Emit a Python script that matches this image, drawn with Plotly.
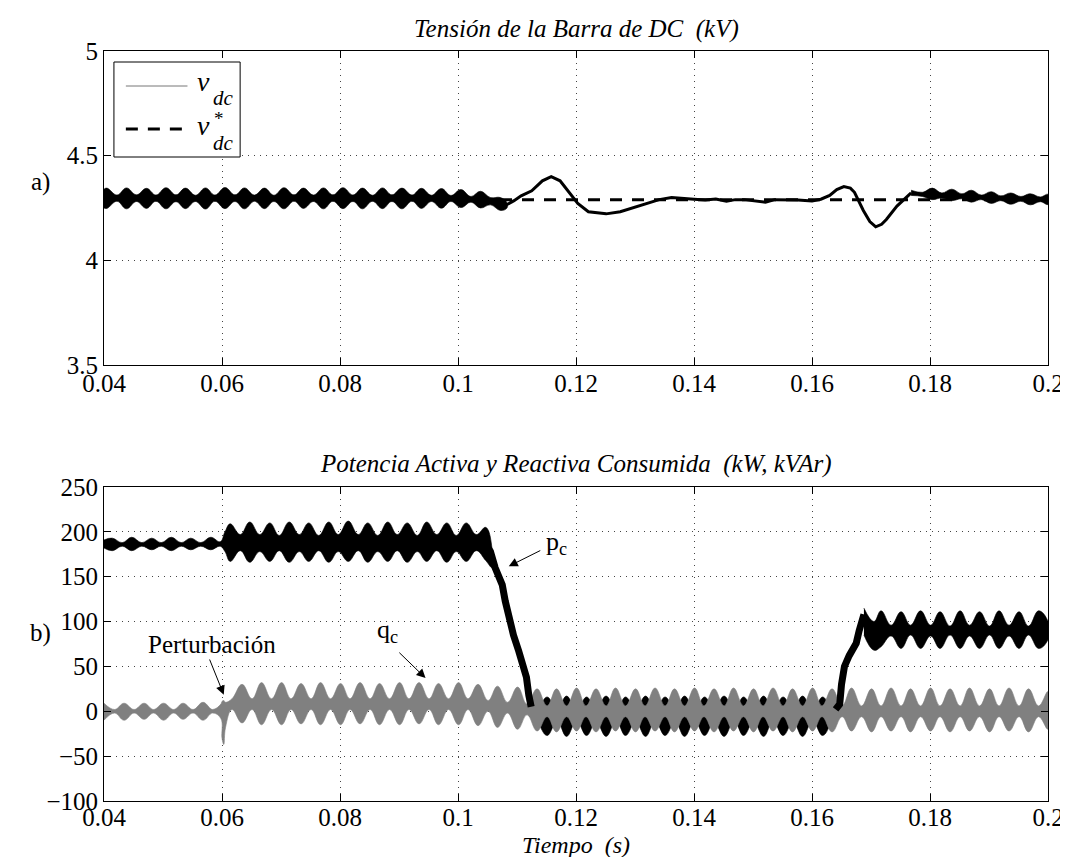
import plotly.graph_objects as go

FONT = "Liberation Serif"
BLACK = "#000000"
GRAY = "#808080"

# ---------------- data ----------------
x_ticks = [0.04, 0.06, 0.08, 0.10, 0.12, 0.14, 0.16, 0.18, 0.20]
x_tick_labels = ["0.04", "0.06", "0.08", "0.1", "0.12", "0.14", "0.16", "0.18", "0.2"]
y1_ticks = [3.5, 4.0, 4.5, 5.0]
y1_tick_labels = ["3.5", "4", "4.5", "5"]
y2_ticks = [-100, -50, 0, 50, 100, 150, 200, 250]
y2_tick_labels = ["\u2212100", "\u221250", "0", "50", "100", "150", "200", "250"]

# v_dc envelope, steady oscillation before the transient (kV)
vdc_a_t = [0.0400, 0.0405, 0.0422, 0.0438, 0.0455, 0.0472, 0.0488, 0.0505, 0.0522, 0.0538,
           0.0555, 0.0572, 0.0588, 0.0605, 0.0622, 0.0638, 0.0655, 0.0672, 0.0688, 0.0705,
           0.0722, 0.0738, 0.0755, 0.0772, 0.0788, 0.0805, 0.0822, 0.0838, 0.0855, 0.0872,
           0.0888, 0.0905, 0.0922, 0.0938, 0.0955, 0.0972, 0.0988, 0.1005, 0.1022, 0.1038,
           0.1055, 0.1072, 0.1083]
vdc_a_hi = [4.340, 4.345, 4.312, 4.346, 4.313, 4.344, 4.312, 4.347, 4.313, 4.345,
            4.311, 4.346, 4.312, 4.348, 4.313, 4.346, 4.312, 4.345, 4.311, 4.347,
            4.313, 4.345, 4.312, 4.346, 4.313, 4.347, 4.312, 4.345, 4.311, 4.346,
            4.313, 4.345, 4.312, 4.344, 4.311, 4.343, 4.310, 4.338, 4.305, 4.330,
            4.300, 4.300, 4.275]
vdc_a_lo = [4.250, 4.248, 4.282, 4.246, 4.281, 4.248, 4.282, 4.246, 4.280, 4.247,
            4.281, 4.245, 4.282, 4.247, 4.281, 4.246, 4.282, 4.247, 4.281, 4.246,
            4.282, 4.248, 4.281, 4.246, 4.282, 4.247, 4.281, 4.246, 4.282, 4.247,
            4.281, 4.246, 4.282, 4.248, 4.281, 4.249, 4.281, 4.252, 4.278, 4.250,
            4.265, 4.238, 4.250]
# v_dc during the transients (kV)
vdc_b_t = [0.1080, 0.1095, 0.1107, 0.1125, 0.1143, 0.1158, 0.1173, 0.1188, 0.1203, 0.1221,
           0.1251, 0.1275, 0.1305, 0.1341, 0.1362, 0.1383, 0.1400, 0.1419, 0.1437, 0.1455,
           0.1470, 0.1485, 0.1503, 0.1521, 0.1537, 0.1552, 0.1576, 0.1600, 0.1615, 0.1630,
           0.1642, 0.1654, 0.1665, 0.1672, 0.1687, 0.1698, 0.1708, 0.1718, 0.1726, 0.1744,
           0.1768]
vdc_b = [4.262, 4.285, 4.308, 4.332, 4.380, 4.400, 4.380, 4.325, 4.272, 4.232,
         4.222, 4.232, 4.259, 4.290, 4.300, 4.297, 4.292, 4.288, 4.293, 4.282,
         4.290, 4.290, 4.284, 4.278, 4.290, 4.290, 4.288, 4.283, 4.292, 4.310,
         4.338, 4.352, 4.345, 4.325, 4.238, 4.185, 4.160, 4.172, 4.195, 4.259,
         4.322]
# v_dc envelope after the second transient (kV)
vdc_c_t = [0.1768, 0.1787, 0.1804, 0.1820, 0.1837, 0.1854, 0.1870, 0.1887, 0.1904, 0.1920,
           0.1937, 0.1954, 0.1970, 0.1987, 0.2000]
vdc_c_hi = [4.335, 4.325, 4.345, 4.322, 4.340, 4.318, 4.335, 4.312, 4.328, 4.308,
            4.322, 4.305, 4.318, 4.303, 4.315]
vdc_c_lo = [4.310, 4.305, 4.290, 4.298, 4.285, 4.294, 4.278, 4.290, 4.272, 4.285,
            4.268, 4.282, 4.265, 4.280, 4.267]
# reference v*_dc (kV)
vref_t = [0.04, 0.20]
vref = [4.29, 4.29]

# p_c envelope before the load drop (kW)
pc_a_t = [0.0400, 0.0414, 0.0431, 0.0447, 0.0464, 0.0481, 0.0497, 0.0514, 0.0531, 0.0547,
          0.0564, 0.0581, 0.0597, 0.0605, 0.0614, 0.0631, 0.0647, 0.0664, 0.0681, 0.0697,
          0.0714, 0.0731, 0.0747, 0.0764, 0.0781, 0.0797, 0.0814, 0.0831, 0.0847, 0.0864,
          0.0881, 0.0897, 0.0914, 0.0931, 0.0947, 0.0964, 0.0981, 0.0997, 0.1014, 0.1031,
          0.1047, 0.1058]
pc_a_hi = [191, 193, 188, 194, 188, 193, 188, 194, 188, 193,
           188, 194, 189, 200, 209, 197, 211, 197, 210, 196,
           211, 197, 210, 196, 211, 197, 212, 197, 210, 196,
           211, 197, 210, 196, 211, 197, 210, 196, 210, 197,
           205, 180]
pc_a_lo = [182, 179, 184, 179, 184, 180, 184, 179, 184, 180,
           184, 180, 184, 178, 167, 179, 166, 178, 167, 179,
           166, 178, 167, 179, 166, 178, 167, 179, 166, 178,
           167, 179, 166, 178, 167, 179, 166, 178, 167, 179,
           168, 160]
# p_c fall (kW)
pc_fall_t = [0.1045, 0.1055, 0.1063, 0.1069, 0.1075, 0.1080, 0.1086, 0.1094, 0.1103, 0.1111,
             0.1116, 0.1120, 0.1124]
pc_fall = [188, 178, 160, 150, 141, 123, 104, 85, 67, 50, 38, 18, 5]
# p_c envelope at low load (kW)
pc_b_t = [0.1120, 0.1134, 0.1151, 0.1168, 0.1184, 0.1201, 0.1218, 0.1234, 0.1251, 0.1268,
          0.1284, 0.1301, 0.1318, 0.1334, 0.1351, 0.1368, 0.1384, 0.1401, 0.1418, 0.1434,
          0.1451, 0.1468, 0.1484, 0.1501, 0.1518, 0.1534, 0.1551, 0.1568, 0.1584, 0.1601,
          0.1618, 0.1634, 0.1645]
pc_b_hi = [15, 3, 16, 2, 17, 1, 16, 2, 17, 1,
           16, 2, 17, 1, 16, 2, 17, 1, 16, 2,
           17, 1, 16, 2, 17, 1, 16, 2, 17, 1,
           16, 3, 10]
pc_b_lo = [-5, -12, -27, -11, -28, -11, -27, -12, -28, -11,
           -27, -12, -28, -11, -27, -12, -28, -11, -27, -12,
           -28, -11, -27, -12, -28, -11, -27, -12, -28, -11,
           -27, -12, -5]
# p_c rise (kW)
pc_rise_t = [0.1640, 0.1647, 0.1650, 0.1655, 0.1663, 0.1675, 0.1680, 0.1684, 0.1688]
pc_rise = [2, 8, 30, 50, 62, 76, 90, 102, 108]
# p_c envelope at the final load (kW)
pc_c_t = [0.1688, 0.1705, 0.1717, 0.1734, 0.1751, 0.1767, 0.1784, 0.1801, 0.1817, 0.1834,
          0.1851, 0.1867, 0.1884, 0.1901, 0.1917, 0.1934, 0.1951, 0.1967, 0.1984, 0.2000]
pc_c_hi = [115, 100, 112, 96, 111, 96, 112, 96, 111, 95,
           112, 96, 111, 95, 112, 96, 111, 95, 112, 100]
pc_c_lo = [85, 68, 72, 84, 70, 85, 70, 84, 70, 85,
           70, 84, 70, 85, 70, 84, 70, 85, 70, 80]

# q_c envelope (kVAr)
qc_t = [0.0400, 0.0418, 0.0434, 0.0451, 0.0468, 0.0484, 0.0501, 0.0518, 0.0534, 0.0551,
        0.0568, 0.0584, 0.0598, 0.0600, 0.0603, 0.0606, 0.0617, 0.0634, 0.0651, 0.0667,
        0.0684, 0.0701, 0.0717, 0.0734, 0.0751, 0.0767, 0.0784, 0.0801, 0.0817, 0.0834,
        0.0851, 0.0867, 0.0884, 0.0901, 0.0917, 0.0934, 0.0951, 0.0967, 0.0984, 0.1001,
        0.1017, 0.1034, 0.1051, 0.1067, 0.1084, 0.1101, 0.1117, 0.1134, 0.1151, 0.1167,
        0.1184, 0.1201, 0.1217, 0.1234, 0.1251, 0.1267, 0.1284, 0.1301, 0.1317, 0.1334,
        0.1351, 0.1367, 0.1384, 0.1401, 0.1417, 0.1434, 0.1451, 0.1467, 0.1484, 0.1501,
        0.1517, 0.1534, 0.1551, 0.1567, 0.1584, 0.1601, 0.1617, 0.1634, 0.1651, 0.1667,
        0.1684, 0.1701, 0.1717, 0.1734, 0.1751, 0.1767, 0.1784, 0.1801, 0.1817, 0.1834,
        0.1851, 0.1867, 0.1884, 0.1901, 0.1917, 0.1934, 0.1951, 0.1967, 0.1984, 0.2000]
qc_hi = [9, 2, 9, 2, 9, 2, 9, 2, 9, 2,
         10, 2, 8, 11, 12, 10, 14, 30, 14, 32,
         14, 32, 14, 31, 14, 32, 14, 31, 14, 32,
         14, 31, 14, 32, 14, 32, 14, 31, 14, 32,
         14, 30, 12, 28, 10, 27, 8, 25, 6, 25,
         6, 26, 6, 25, 6, 26, 6, 25, 6, 26,
         6, 25, 6, 26, 6, 25, 6, 26, 6, 25,
         6, 26, 6, 25, 6, 26, 6, 25, 6, 26,
         6, 25, 6, 26, 6, 25, 6, 26, 6, 25,
         6, 26, 6, 25, 6, 26, 6, 25, 6, 22]
qc_lo = [-10, -2, -10, -2, -9, -2, -10, -2, -9, -2,
         -10, -2, -8, -30, -37, -18, 2, -13, 2, -15,
         2, -15, 2, -14, 2, -15, 2, -15, 2, -14,
         2, -15, 2, -15, 2, -14, 2, -15, 2, -15,
         2, -16, 0, -18, -2, -20, -4, -22, -6, -23,
         -6, -22, -6, -23, -6, -22, -6, -23, -6, -22,
         -6, -23, -6, -22, -6, -23, -6, -22, -6, -23,
         -6, -22, -6, -23, -6, -22, -6, -23, -6, -22,
         -6, -23, -6, -22, -6, -23, -6, -22, -6, -23,
         -6, -22, -6, -23, -6, -22, -6, -23, -6, -20]

# ---------------- figure ----------------
W, H = 1068, 857
ML, MR, MT, MB = 96, 22, 43, 64
PW, PH = W - ML - MR, H - MT - MB


def px_x(p):
    return (p - ML) / PW


def px_y(p):
    return (H - MB - p) / PH


def band(t, hi, lo, color, xa, ya):
    return go.Scatter(
        x=list(t) + list(t[::-1]), y=list(hi) + list(lo[::-1]),
        mode="lines", fill="toself", fillcolor=color,
        line=dict(color=color, width=0.6, shape="spline", smoothing=1.2),
        hoverinfo="skip", showlegend=False, xaxis=xa, yaxis=ya)


def line(t, v, color, width, xa, ya, dash="solid"):
    return go.Scatter(x=t, y=v, mode="lines",
                      line=dict(color=color, width=width, dash=dash),
                      hoverinfo="skip", showlegend=False, xaxis=xa, yaxis=ya)


fig = go.Figure()
# top
fig.add_trace(band(vdc_a_t, vdc_a_hi, vdc_a_lo, BLACK, "x", "y"))
fig.add_trace(line(vdc_b_t, vdc_b, BLACK, 3, "x", "y"))
fig.add_trace(band(vdc_c_t, vdc_c_hi, vdc_c_lo, BLACK, "x", "y"))
fig.add_trace(line(vref_t, vref, BLACK, 3, "x", "y", dash="12px,10px"))
# bottom
fig.add_trace(band(pc_a_t, pc_a_hi, pc_a_lo, BLACK, "x2", "y2"))
fig.add_trace(band(pc_b_t, pc_b_hi, pc_b_lo, BLACK, "x2", "y2"))
fig.add_trace(band(pc_c_t, pc_c_hi, pc_c_lo, BLACK, "x2", "y2"))
fig.add_trace(band(qc_t, qc_hi, qc_lo, GRAY, "x2", "y2"))
fig.add_trace(line(pc_fall_t, pc_fall, BLACK, 7, "x2", "y2"))
fig.add_trace(line(pc_rise_t, pc_rise, BLACK, 7, "x2", "y2"))

axis_common = dict(
    showline=True, linecolor=BLACK, linewidth=1, mirror="ticks",
    ticks="inside", ticklen=7, tickcolor=BLACK, tickwidth=1,
    showgrid=True, gridcolor="#444444", gridwidth=1, griddash="1px,5px",
    zeroline=False, tickfont=dict(family=FONT, size=25, color=BLACK),
)
y_top_dom0 = px_y(357)
y_bot_dom1 = px_y(479)
fig.update_layout(
    width=W, height=H, autosize=False,
    margin=dict(l=ML, r=MR, t=MT, b=MB),
    paper_bgcolor="white", plot_bgcolor="white",
    font=dict(family=FONT, size=25, color=BLACK),
    showlegend=False,
    xaxis=dict(domain=[0, 1], anchor="y", range=[0.04, 0.2], tickmode="array",
               tickvals=x_ticks, ticktext=x_tick_labels, ticklabelstandoff=-4, **axis_common),
    yaxis=dict(domain=[y_top_dom0, 1], anchor="x", range=[3.5, 5], tickmode="array",
               tickvals=y1_ticks, ticktext=y1_tick_labels, **axis_common),
    xaxis2=dict(domain=[0, 1], anchor="y2", range=[0.04, 0.2], tickmode="array",
                tickvals=x_ticks, ticktext=x_tick_labels, ticklabelstandoff=-6, **axis_common),
    yaxis2=dict(domain=[0, y_bot_dom1], anchor="x2", range=[-100, 250], tickmode="array",
                tickvals=y2_ticks, ticktext=y2_tick_labels, **axis_common),
)

ann = []


def txt(x, y, s, size=25, xanchor="center", yanchor="middle", ref="paper"):
    ann.append(dict(x=x, y=y, xref=ref if ref == "paper" else ref[0],
                    yref=ref if ref == "paper" else ref[1], text=s, showarrow=False,
                    xanchor=xanchor, yanchor=yanchor,
                    font=dict(family=FONT, size=size, color=BLACK)))


txt(0.5, px_y(21), "<i>Tensión de la Barra de DC \u00a0(kV)</i>")
txt(0.5, px_y(456), "<i>Potencia Activa y Reactiva Consumida \u00a0(kW, kVAr)</i>")
txt(0.5, px_y(837), "<i>Tiempo \u00a0(s)</i>", size=24)
txt(px_x(32), px_y(174), "a)")
txt(px_x(32), px_y(625), "b)")

# legend (drawn by hand to stack the super/subscripts)
shapes = [
    dict(type="rect", xref="paper", yref="paper", x0=px_x(106), x1=px_x(233),
         y0=px_y(149), y1=px_y(54), line=dict(color=BLACK, width=1), fillcolor="white"),
    dict(type="line", xref="paper", yref="paper", x0=px_x(118), x1=px_x(180),
         y0=px_y(78), y1=px_y(78), line=dict(color="#777777", width=1)),
    dict(type="line", xref="paper", yref="paper", x0=px_x(118), x1=px_x(180),
         y0=px_y(121), y1=px_y(121), line=dict(color=BLACK, width=3, dash="12px,10px")),
]
txt(px_x(196), px_y(73), "<i>v</i>", size=28)
txt(px_x(204), px_y(90), "<i>dc</i>", size=21, xanchor="left")
txt(px_x(196), px_y(117), "<i>v</i>", size=28)
txt(px_x(205), px_y(110), "*", size=19, xanchor="left")
txt(px_x(204), px_y(135), "<i>dc</i>", size=21, xanchor="left")

# annotations with arrows on the bottom plot
def arrow(hx, hy, tx, ty):
    ann.append(dict(x=hx, y=hy, ax=tx, ay=ty, xref="x2", yref="y2", axref="x2", ayref="y2",
                    text="", showarrow=True, arrowhead=2, arrowsize=1.8, arrowwidth=1,
                    arrowcolor=BLACK, standoff=0))


arrow(0.0603, 18.5, 0.0578, 59.4)
arrow(0.0945, 37, 0.0898, 67)
arrow(0.1086, 161.6, 0.1142, 180)
txt(0.0583, 75, "Perturbación", size=25, ref=("x2", "y2"))
txt(0.0880, 90, "q<sub>c</sub>", size=26, ref=("x2", "y2"))
txt(0.1146, 188, "p<sub>c</sub>", size=26, xanchor="left", ref=("x2", "y2"))

fig.update_layout(annotations=ann, shapes=shapes)
fig.write_html("out.html")
